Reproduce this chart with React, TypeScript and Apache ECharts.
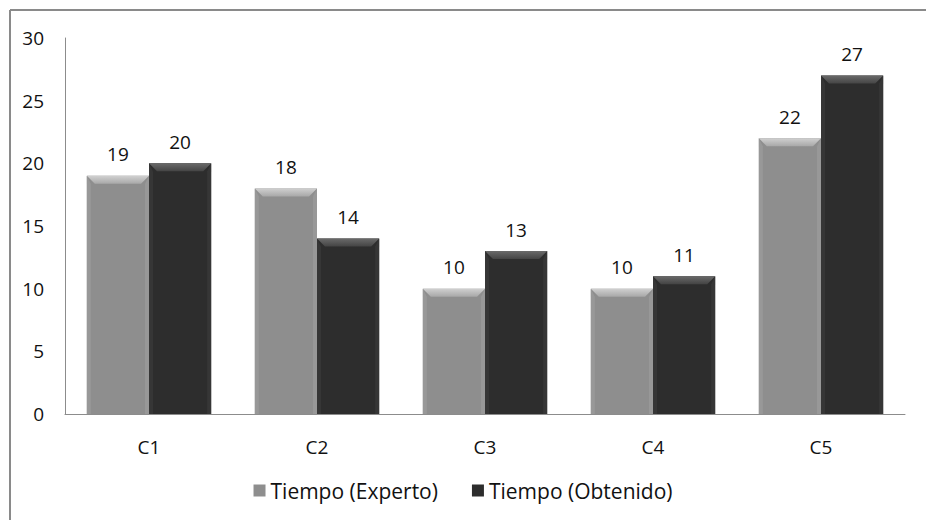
import React, { useEffect, useRef } from "react";
import * as echarts from "echarts";

const categories = ["C1", "C2", "C3", "C4", "C5"];
const experto = [19, 18, 10, 10, 22];
const obtenido = [20, 14, 13, 11, 27];
const seriesNames = ["Tiempo (Experto)", "Tiempo (Obtenido)"];
const yTicks = { min: 0, max: 30, interval: 5 };

const FONT = "'Open Sans', 'Noto Sans', sans-serif";
const CAT_GAP = 0.26;

function bevel(side: number, light: string, mid: string, edge: string) {
  return (params: any, api: any) => {
    const top = api.coord([api.value(0), api.value(1)]);
    const base = api.coord([api.value(0), 0]);
    const catW = api.size([1, 0])[0];
    const bw = (catW * (1 - CAT_GAP)) / 2;
    const x0 = side < 0 ? top[0] - bw : top[0];
    const x1 = x0 + bw;
    const t = top[1];
    const b = 8;
    const e = 4;
    return {
      type: "group",
      silent: true,
      children: [
        {
          type: "polygon",
          shape: { points: [[x0, t], [x0 + e, t + b], [x0 + e, base[1]], [x0, base[1]]] },
          style: { fill: edge },
        },
        {
          type: "polygon",
          shape: { points: [[x1, t], [x1 - e, t + b], [x1 - e, base[1]], [x1, base[1]]] },
          style: { fill: edge },
        },
        {
          type: "polygon",
          shape: { points: [[x0, t], [x1, t], [x1 - b, t + b], [x0 + b, t + b]] },
          style: {
            fill: new echarts.graphic.LinearGradient(0, 0, 0, 1, [
              { offset: 0, color: light },
              { offset: 1, color: mid },
            ]),
          },
        },
      ],
    };
  };
}

export default function App() {
  const ref = useRef<HTMLDivElement>(null);
  useEffect(() => {
    if (!ref.current) return;
    const chart = echarts.init(ref.current, undefined, { renderer: "svg" });
    const labelStyle = {
      show: true,
      position: "top" as const,
      distance: 12,
      fontFamily: FONT,
      fontSize: 19,
      color: "#111111",
    };
    chart.setOption({
      animation: false,
      backgroundColor: "#ffffff",
      graphic: [
        {
          type: "line",
          shape: { x1: 10, y1: 10, x2: 926, y2: 10 },
          style: { stroke: "#8a8a8a", lineWidth: 2 },
        },
        {
          type: "line",
          shape: { x1: 10, y1: 10, x2: 10, y2: 520 },
          style: { stroke: "#8a8a8a", lineWidth: 2 },
        },
      ],
      grid: { left: 65, right: 21, top: 38, bottom: 106, containLabel: false },
      legend: {
        data: seriesNames,
        bottom: 14,
        left: "center",
        itemWidth: 12,
        itemHeight: 12,
        itemGap: 34,
        icon: "rect",
        textStyle: { fontFamily: FONT, fontSize: 21, color: "#111111" },
      },
      xAxis: {
        type: "category",
        data: categories,
        axisLine: { show: true, lineStyle: { color: "#8c8c8c", width: 1 } },
        axisTick: { show: false },
        axisLabel: { fontFamily: FONT, fontSize: 19, color: "#111111", margin: 23 },
      },
      yAxis: {
        type: "value",
        min: yTicks.min,
        max: yTicks.max,
        interval: yTicks.interval,
        axisLine: { show: true, lineStyle: { color: "#8c8c8c", width: 1 } },
        axisTick: { show: false },
        splitLine: { show: false },
        axisLabel: { fontFamily: FONT, fontSize: 19, color: "#111111", margin: 21 },
      },
      series: [
        {
          name: seriesNames[0],
          type: "bar",
          data: experto,
          barGap: "0%",
          barCategoryGap: "26%",
          itemStyle: { color: "#8e8e8e" },
          label: labelStyle,
        },
        {
          name: seriesNames[1],
          type: "bar",
          data: obtenido,
          barGap: "0%",
          barCategoryGap: "26%",
          itemStyle: { color: "#2d2d2d" },
          label: labelStyle,
        },
        {
          type: "custom",
          name: "bevel1",
          silent: true,
          z: 3,
          data: experto.map((v, i) => [i, v]),
          renderItem: bevel(-1, "#d0d0d0", "#a8a8a8", "#989898"),
        },
        {
          type: "custom",
          name: "bevel2",
          silent: true,
          z: 3,
          data: obtenido.map((v, i) => [i, v]),
          renderItem: bevel(1, "#6a6a6a", "#444444", "#363636"),
        },
      ],
    });
    return () => chart.dispose();
  }, []);
  return (
    <div
      ref={ref}
      style={{ position: "fixed", left: 0, top: 0, width: 926, height: 520 }}
    />
  );
}
